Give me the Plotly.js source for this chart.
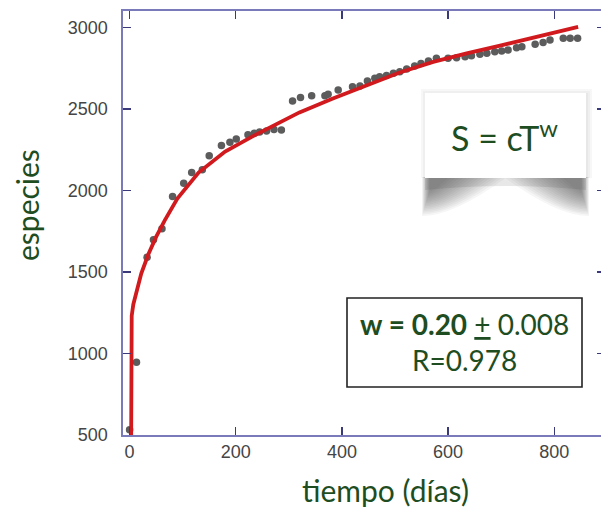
<!DOCTYPE html>
<html>
<head>
<meta charset="utf-8">
<script src="https://cdn.plot.ly/plotly-3.0.1.min.js"></script>
<style>
  html, body { margin: 0; padding: 0; background: #ffffff; overflow: hidden; }
  #chart { width: 606px; height: 508px; }
</style>
</head>
<body>
<div id="chart"></div>
<script>
// Species accumulation: observed counts per sampling day
const days = [0, 13, 33, 45, 61, 81, 102, 117, 137, 150, 173, 189, 201, 223, 235, 245, 258, 272, 286,
  307, 322, 343, 368, 374, 393, 420, 434, 448, 462, 471, 484, 497, 509, 522, 537, 549, 563, 578,
  600, 616, 632, 644, 660, 673, 688, 701, 713, 729, 739, 764, 779, 792, 817, 830, 844];
const species = [530, 945, 1590, 1698, 1765, 1963, 2045, 2110, 2127, 2213, 2276, 2297, 2317, 2342, 2352, 2360, 2366, 2375, 2372,
  2550, 2571, 2583, 2583, 2591, 2618, 2638, 2642, 2673, 2690, 2699, 2706, 2720, 2730, 2747, 2765, 2780, 2796, 2812,
  2812, 2816, 2822, 2828, 2837, 2843, 2853, 2857, 2863, 2877, 2883, 2898, 2910, 2925, 2935, 2935, 2935];

// Fitted power-law curve S = c T^w
const fitDays = [3, 4, 7, 13, 22, 35, 50, 66, 90, 130, 180, 230, 283, 320, 383, 446, 509, 572, 635, 698, 760, 845];
const fitSpecies = [490, 1230, 1300, 1370, 1490, 1605, 1715, 1815, 1950, 2110, 2240, 2330, 2420, 2480, 2565, 2648, 2725, 2790, 2843, 2890, 2940, 3005];

const xTicks = [0, 200, 400, 600, 800];
const yTicks = [500, 1000, 1500, 2000, 2500, 3000];

const fitLabel = 'S = cT<sup>w</sup>';
const paramLabel = '<b>w = 0.20</b> <u>+</u> 0.008<br>R=0.978';
const xLabel = 'tiempo (días)';
const yLabel = 'especies';

// plot-area geometry in pixels
const W = 606, H = 508;
const M = { l: 123, r: 1, t: 11, b: 73 };
const PW = W - M.l - M.r, PH = H - M.t - M.b;
const px = x => (x - M.l) / PW;
const py = y => (M.t + PH - y) / PH;

const green = '#1f4d22';
const axisCol = '#7a7abb';
const textFont = 'Lato, "Open Sans", sans-serif';

const shapes = [];
// curled-page shadow under the formula card: darker at both lower corners
const bx0 = 425, bx1 = 586, by0 = 93, by1 = 178;
const yt = py(by1 - 1);
shapes.push({
  type: 'path', xref: 'paper', yref: 'paper', layer: 'above',
  path: `M ${px(bx0)} ${yt} L ${px(bx0)} ${py(by1 + 12)} Q ${px((bx0 + bx1) / 2)} ${py(by1 + 4)} ${px(bx1)} ${py(by1 + 12)} L ${px(bx1)} ${yt} Z`,
  fillcolor: 'rgba(90,90,90,0.14)', line: { width: 0 }
});
const nLayers = 16;
for (let k = 0; k < nLayers; k++) {
  const t = k / nLayers;
  const w = 82 - 62 * t, d = 38 - 26 * t, inset = -3 + 8 * t, op = 0.045;
  // left corner
  shapes.push({
    type: 'path', xref: 'paper', yref: 'paper', layer: 'above',
    path: `M ${px(bx0 + inset)} ${yt} L ${px(bx0 + inset)} ${py(by1 + d)} Q ${px(bx0 + w * 0.35)} ${py(by1 + d)} ${px(bx0 + w)} ${yt} Z`,
    fillcolor: `rgba(40,40,40,${op})`, line: { width: 0 }
  });
  // right corner
  shapes.push({
    type: 'path', xref: 'paper', yref: 'paper', layer: 'above',
    path: `M ${px(bx1 - inset)} ${yt} L ${px(bx1 - inset)} ${py(by1 + d)} Q ${px(bx1 - w * 0.35)} ${py(by1 + d)} ${px(bx1 - w)} ${yt} Z`,
    fillcolor: `rgba(40,40,40,${op})`, line: { width: 0 }
  });
}
// faint halo around the card
[6, 4, 2].forEach(g => {
  shapes.push({
    type: 'rect', xref: 'paper', yref: 'paper', layer: 'above',
    x0: px(bx0 - g + 2), x1: px(bx1 + g), y0: py(by1), y1: py(by0 - g + 2),
    fillcolor: 'rgba(0,0,0,0.03)', line: { width: 0 }
  });
});
// the card itself
shapes.push({
  type: 'rect', xref: 'paper', yref: 'paper', layer: 'above',
  x0: px(bx0), x1: px(bx1), y0: py(by1), y1: py(by0),
  fillcolor: '#ffffff', line: { width: 0 }
});
// framed parameter box
shapes.push({
  type: 'rect', xref: 'paper', yref: 'paper', layer: 'above',
  x0: px(347), x1: px(582), y0: py(387), y1: py(298),
  fillcolor: '#ffffff', line: { color: '#222222', width: 1.6 }
});

const annotations = [
  {
    xref: 'paper', yref: 'paper', x: px(504), y: py(136),
    text: fitLabel, showarrow: false, xanchor: 'center', yanchor: 'middle',
    font: { family: textFont, size: 34, color: green }
  },
  {
    xref: 'paper', yref: 'paper', x: px(464.5), y: py(342),
    text: paramLabel, showarrow: false, xanchor: 'center', yanchor: 'middle',
    align: 'center',
    font: { family: textFont, size: 28, color: green }
  },
  {
    xref: 'paper', yref: 'paper', x: px(385), y: py(490),
    text: xLabel, showarrow: false, xanchor: 'center', yanchor: 'middle',
    font: { family: textFont, size: 30, color: green }
  },
  {
    xref: 'paper', yref: 'paper', x: px(27), y: py(205), textangle: -90,
    text: yLabel, showarrow: false, xanchor: 'center', yanchor: 'middle',
    font: { family: textFont, size: 30, color: green }
  }
];

const traces = [
  {
    x: days, y: species, type: 'scatter', mode: 'markers',
    marker: { color: '#5c5c5c', size: 7.5 },
    hoverinfo: 'x+y', showlegend: false
  },
  {
    x: fitDays, y: fitSpecies, type: 'scatter', mode: 'lines',
    line: { color: '#d01a1e', width: 3.8 },
    hoverinfo: 'skip', showlegend: false
  }
];

const layout = {
  width: W, height: H,
  margin: M,
  paper_bgcolor: '#ffffff', plot_bgcolor: '#ffffff',
  showlegend: false,
  xaxis: {
    range: [-12.4, 895.6],
    tickvals: xTicks, ticktext: xTicks.map(String),
    ticks: 'inside', ticklen: 8, tickwidth: 1.4, tickcolor: '#3a3a7a',
    showline: true, linecolor: axisCol, linewidth: 1.6, mirror: 'ticks',
    showgrid: false, zeroline: false,
    ticklabelstandoff: 0,
    tickfont: { family: '"Liberation Sans", Arial, sans-serif', size: 18, color: '#454545' }
  },
  yaxis: {
    range: [498, 3103],
    tickvals: yTicks, ticktext: yTicks.map(String),
    ticks: 'inside', ticklen: 8, tickwidth: 1.4, tickcolor: '#3a3a7a',
    showline: true, linecolor: axisCol, linewidth: 1.6, mirror: 'ticks',
    showgrid: false, zeroline: false,
    ticklabelstandoff: 10,
    tickfont: { family: '"Liberation Sans", Arial, sans-serif', size: 18, color: '#454545' }
  },
  shapes: shapes,
  annotations: annotations
};

Plotly.newPlot('chart', traces, layout, { displayModeBar: false, staticPlot: true });
</script>
</body>
</html>
